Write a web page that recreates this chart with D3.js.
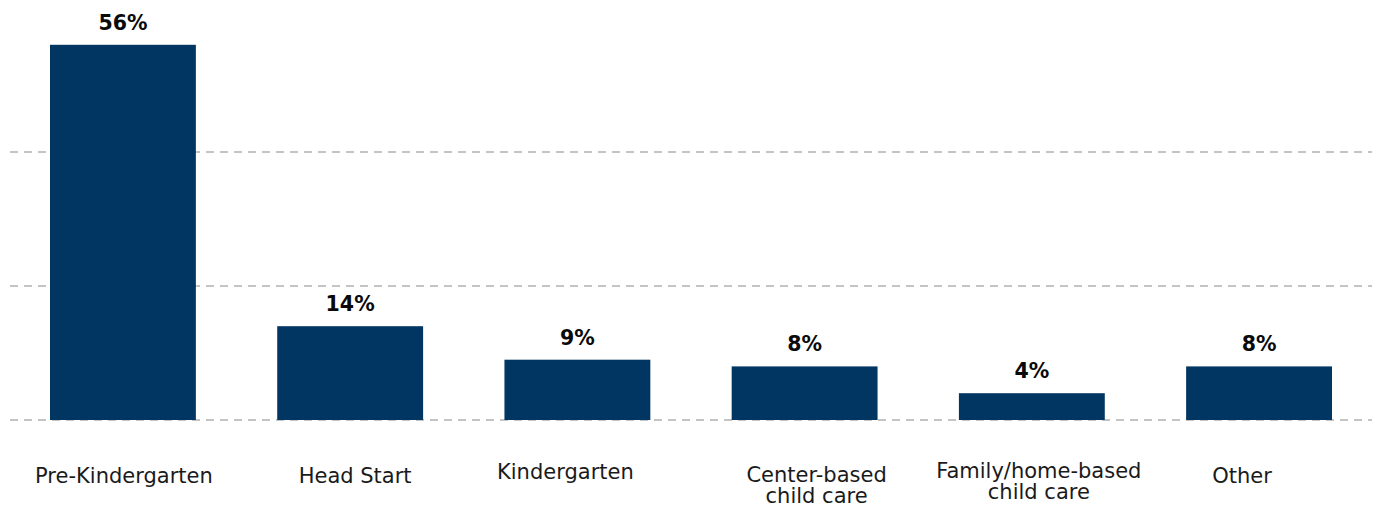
<!DOCTYPE html>
<html>
<head>
<meta charset="utf-8">
<script src="https://cdn.jsdelivr.net/npm/d3@7"></script>
<style>
    body { margin: 0; background: #ffffff; }
    svg { display: block; }
</style>
</head>
<body>
<svg id="chart"></svg>
<script>
// data
const categories = ["Pre-Kindergarten", "Head Start", "Kindergarten", "Center-based child care", "Family/home-based child care", "Other"];
const labelLines = [["Pre-Kindergarten"], ["Head Start"], ["Kindergarten"], ["Center-based", "child care"], ["Family/home-based", "child care"], ["Other"]];
const values = [56, 14, 9, 8, 4, 8];
const gridTicks = [0, 20, 40];

// layout: small nudges of the category labels as placed in the original
const labelDx = [1, 5, -12, 12, 7, -17];
const labelDy = [0, 0, -4, -1, -5, 0];

const width = 1380, height = 508;
const barColor = "#023662";

const svg = d3.select("#chart")
    .attr("width", width)
    .attr("height", height);

// scales
const x = d3.scaleBand()
    .domain(categories)
    .range([10, 1372])
    .paddingInner(0.358)
    .paddingOuter(0.176);

const y = d3.scaleLinear()
    .domain([0, 60])
    .range([420, 18]);

// gridlines
svg.append("g")
    .selectAll("line")
    .data(gridTicks)
    .enter()
    .append("line")
    .attr("x1", 10)
    .attr("x2", 1372)
    .attr("y1", d => y(d))
    .attr("y2", d => y(d))
    .style("stroke", "#c4c4c4")
    .style("stroke-width", 2)
    .style("stroke-dasharray", "8 6");

// bars
svg.append("g")
    .selectAll("rect")
    .data(values)
    .enter()
    .append("rect")
    .attr("x", (d, i) => x(categories[i]))
    .attr("width", x.bandwidth())
    .attr("y", d => y(d))
    .attr("height", d => y(0) - y(d))
    .style("fill", barColor);

// value labels
svg.append("g")
    .selectAll("text")
    .data(values)
    .enter()
    .append("text")
    .attr("x", (d, i) => x(categories[i]) + x.bandwidth() / 2)
    .attr("y", d => y(d) - 15)
    .attr("text-anchor", "middle")
    .style("font-family", "'DejaVu Sans', sans-serif")
    .style("font-weight", "bold")
    .style("font-size", "20.5px")
    .style("fill", "#0a0a0a")
    .text(d => `${d}%`);

// category labels
const catLabels = svg.append("g")
    .selectAll("text")
    .data(categories)
    .enter()
    .append("text")
    .attr("x", (d, i) => x(d) + x.bandwidth() / 2 + labelDx[i])
    .attr("y", (d, i) => 483 + labelDy[i])
    .attr("text-anchor", "middle")
    .style("font-family", "'DejaVu Sans', sans-serif")
    .style("font-size", "21px")
    .style("fill", "#1a1a1a");

catLabels.each(function (d, i) {
    const t = d3.select(this);
    labelLines[i].forEach((line, k) => {
        t.append("tspan")
            .attr("x", t.attr("x"))
            .attr("dy", k === 0 ? 0 : 21)
            .text(line);
    });
});
</script>
</body>
</html>
